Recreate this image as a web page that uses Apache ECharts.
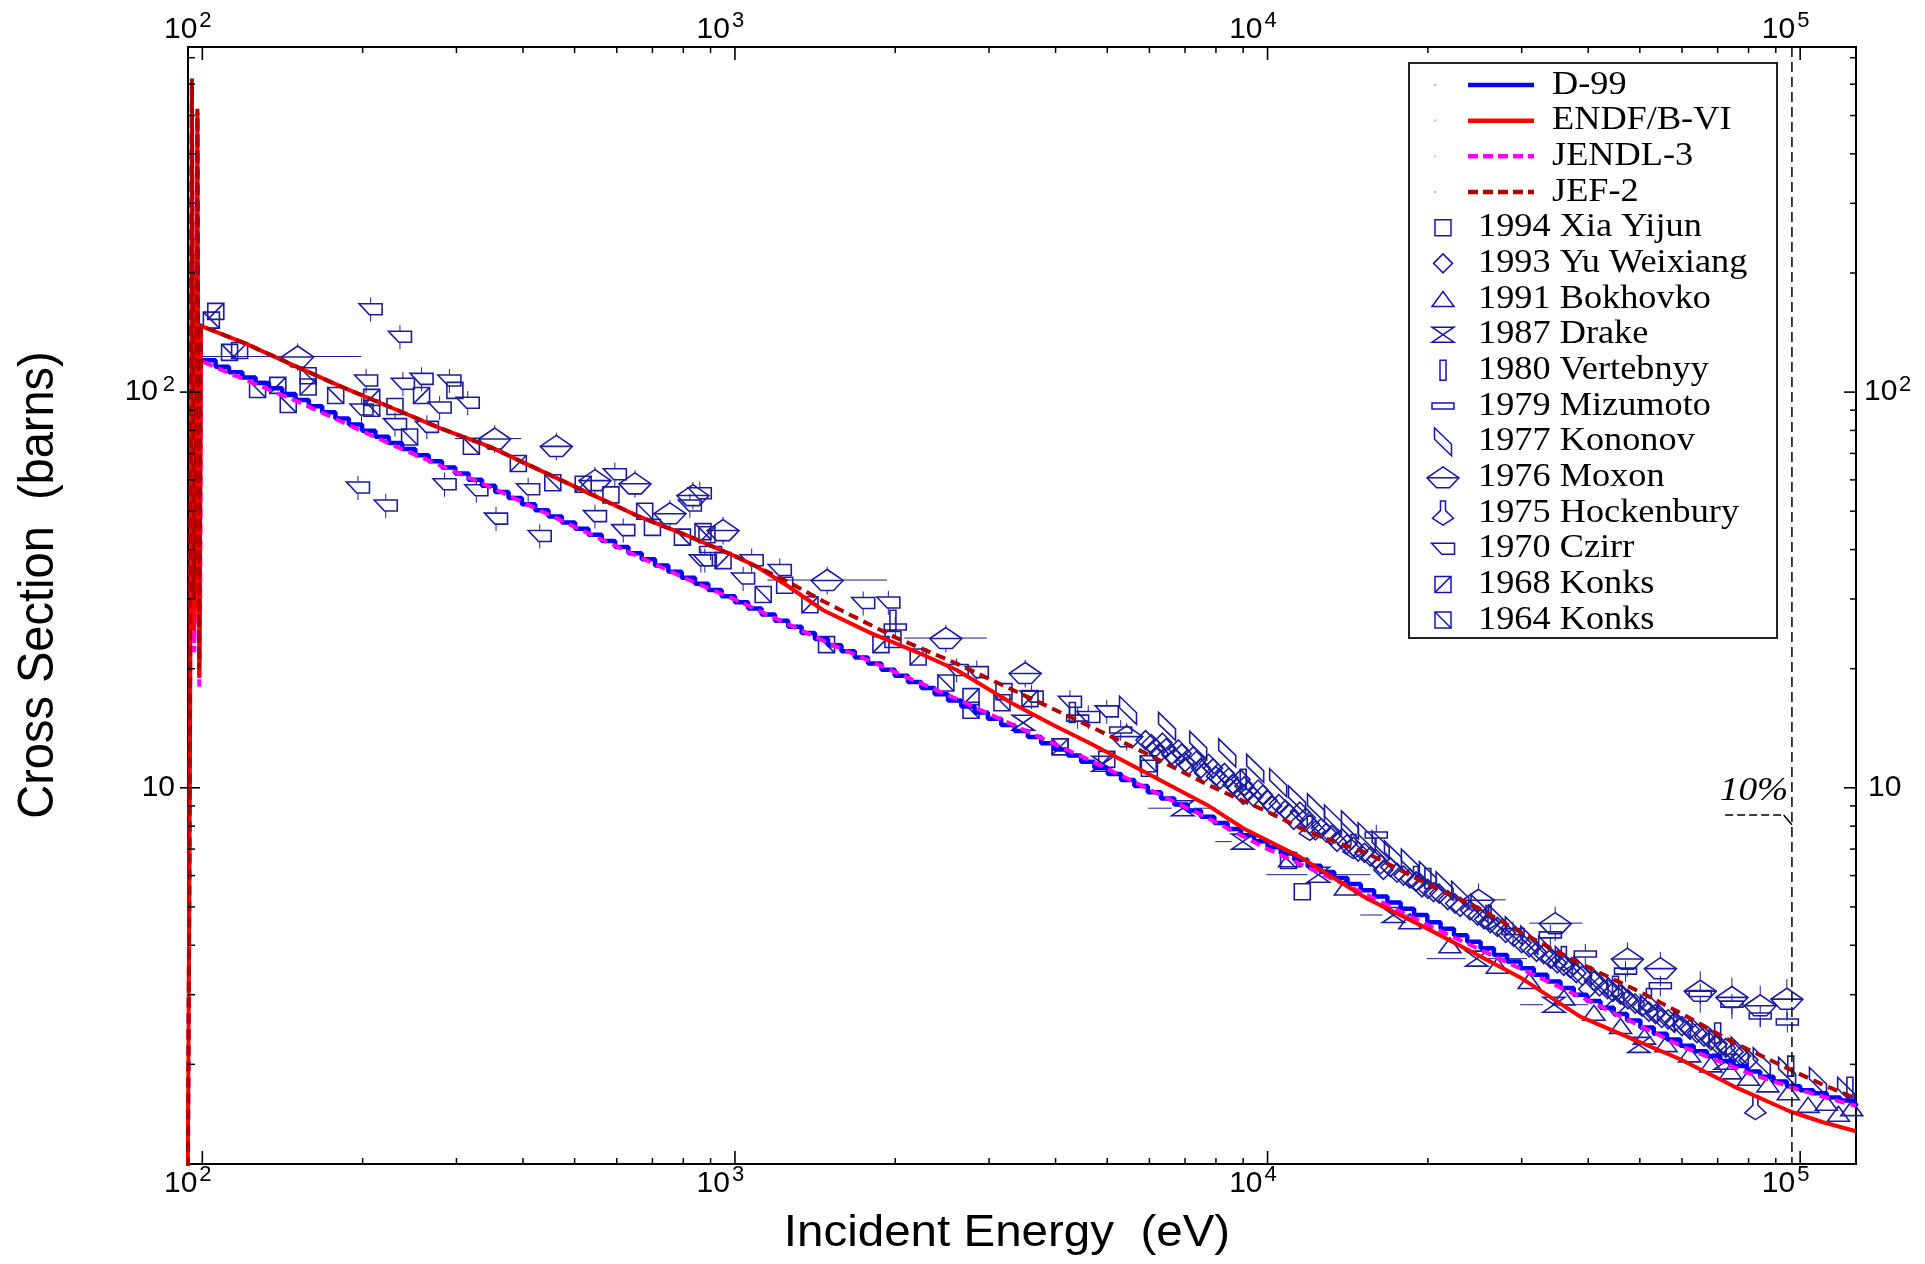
<!DOCTYPE html>
<html><head><meta charset="utf-8">
<script src="https://cdn.jsdelivr.net/npm/echarts@6/dist/echarts.min.js"></script>
<style>html,body{margin:0;padding:0;background:#fff}#c{width:1925px;height:1264px}</style>
</head><body><div id="c"></div>
<script>
// ---------------- axis ranges and tick labels ----------------
const xRange = [94.0, 127300];
const yRange = [1.12, 745];
const xMajorTicks = [100, 1000, 10000, 100000];
const xMajorLabels = [['10','2'],['10','3'],['10','4'],['10','5']];
const yMajorTicks = [10, 100];
const yMajorLabels = [['10',''],['10','2']];
const xDecades = [10, 100, 1000, 10000, 100000];
const yDecades = [1, 10, 100];
const minorMultipliers = [2,3,4,5,6,7,8,9];

// ---------------- evaluated data ----------------
const d99 = [[98.9,149],[99.3,120.4],[105.9,115.9],[112.2,112.3],[118.9,108.8],[125.9,105.4],[133.4,102.2],[141.3,98.97],[149.6,95.5],[158.5,92.16],[167.9,88.93],[177.8,85.81],[188.4,82.81],[199.5,79.91],[211.3,77.11],[223.9,74.41],[237.1,71.8],[251.2,69.28],[266.1,66.86],[281.8,64.51],[298.5,62.25],[316.2,60.07],[335.0,57.97],[354.8,55.94],[375.8,53.98],[398.1,52.09],[421.7,50.26],[446.7,48.5],[473.2,46.8],[501.2,45.16],[530.9,43.58],[562.3,42.05],[595.7,40.58],[631.0,39.16],[668.3,37.79],[707.9,36.46],[749.9,35.18],[794.3,33.95],[841.4,32.76],[891.3,31.61],[944.1,30.5],[1000,29.43],[1059,28.4],[1122,27.41],[1189,26.45],[1259,25.52],[1334,24.63],[1413,23.76],[1496,22.93],[1585,22.13],[1679,21.35],[1778,20.6],[1884,19.88],[1995,19.18],[2113,18.51],[2239,17.86],[2371,17.24],[2512,16.63],[2661,16.05],[2818,15.49],[2985,14.95],[3162,14.42],[3350,13.92],[3548,13.43],[3758,12.96],[3981,12.5],[4217,12.07],[4467,11.64],[4732,11.24],[5012,10.84],[5309,10.46],[5623,10.1],[5957,9.74],[6310,9.4],[6683,9.07],[7079,8.76],[7499,8.45],[7943,8.15],[8414,7.87],[8913,7.59],[9441,7.33],[10000,7.07],[10590,6.82],[11220,6.58],[11890,6.35],[12590,6.13],[13340,5.92],[14130,5.71],[14960,5.51],[15850,5.31],[16790,5.13],[17780,4.95],[18840,4.77],[19950,4.57],[21130,4.40],[22390,4.24],[23710,4.08],[25120,3.93],[26610,3.78],[28180,3.64],[29850,3.50],[31620,3.37],[33500,3.24],[35480,3.12],[37580,3.00],[39810,2.89],[42170,2.78],[44670,2.68],[47320,2.58],[50120,2.48],[53090,2.39],[56230,2.31],[59570,2.23],[63100,2.16],[66830,2.10],[70790,2.04],[74990,1.98],[79430,1.92],[84140,1.86],[89130,1.81],[94410,1.76],[100000,1.72],[105900,1.69],[112200,1.65],[118900,1.62],[125900,1.59],[127300,1.57]];

const endfb6 = [[93.8,0.8],[94.3,3],[94.8,12],[95.2,60],[95.6,600],[96.0,90],[96.5,25],[97.0,30],[97.5,120],[97.9,510],[98.3,80],[98.7,19],[99.0,40],[99.4,147],[120,133],[146,118],[180,104],[225,91.7],[280,81],[347,72.7],[430,63.5],[534,55.4],[660,48.5],[823,43.1],[1000,38.5],[1100,36.2],[1250,32.5],[1465,28.1],[1800,24.6],[2200,22],[2608,19.85],[3300,16.4],[4000,14.3],[4642,12.96],[6000,10.8],[7700,9.05],[9000,7.9],[11500,6.69],[15360,5.25],[20000,4.4],[25060,3.75],[30000,3.3],[38640,2.64],[48000,2.33],[59550,2.06],[75000,1.76],[95800,1.52],[110000,1.43],[127300,1.355]];

const jendl3 = [[94.0,1.0],[94.6,6],[95.2,80],[95.6,600],[96.1,70],[96.6,22],[97.1,35],[97.5,150],[97.9,500],[98.3,60],[98.7,18],[99.1,30],[99.5,120],[110,113],[150,95],[225,74],[350,57.3],[530,44],[820,33.5],[1000,29.9],[1500,23.2],[2600,16.8],[4600,11.8],[7700,8.4],[10000,7.0],[15000,5.45],[20000,4.5],[27000,3.72],[40000,2.9],[60000,2.22],[80000,1.9],[100000,1.72],[127300,1.57]];

const jef2 = [[93.9,1.0],[94.5,5],[95.0,40],[95.6,620],[96.0,120],[96.5,30],[97.0,40],[97.5,100],[97.9,520],[98.3,100],[98.7,20],[99.1,60],[99.4,147],[120,133],[146,118],[180,104],[225,91.7],[280,81],[347,72.7],[430,63.5],[534,55.4],[660,48.5],[823,43.1],[1000,38.5],[1100,36.2],[1250,33.3],[1465,29.6],[2000,24.0],[2608,20.6],[3500,17.1],[4642,14.3],[6000,12.1],[7700,10.2],[8628,9.5],[10000,8.7],[12000,7.7],[15360,6.84],[20000,5.7],[25000,4.95],[30000,4.3],[38600,3.6],[50000,3.05],[59550,2.7],[75000,2.27],[95800,1.94],[110000,1.78],[127300,1.64]];

// ---------------- experimental data: [E(eV), sigma(b), relErr?, Elow?, Ehigh?] ----------------
const xia1994 = [[230,92],[298,101],[585,55],[700,45.5],[1240,32.5],[1980,23.7],[3200,17.5],[6000,11.2],[11620,5.46]];
const yu1993 = [[5900,13.2],[6150,12.6],[6350,13.0],[6600,12.1],[6800,12.5],[7000,11.6],[7250,12.0],[7500,11.2],[7750,11.5],[8000,10.7],[8300,10.9],[8600,10.2],[8900,10.5],[9000,9.6],[9200,9.8],[9600,9.9],[10000,9.3],[10500,9.1],[11000,8.6],[11500,8.7],[12000,8.1],[12600,7.9],[13200,7.6],[13800,7.45],[14500,7.1],[15200,6.85],[16000,6.6],[16500,6.2],[17000,6.3],[18000,6.0],[19000,5.8],[20000,5.55],[21000,5.4],[22500,5.1],[24000,4.9],[25500,4.65],[27000,4.45],[29000,4.2],[31000,3.95],[33000,3.8],[35000,3.6],[37000,3.5],[39000,3.35],[40000,3.1],[41000,3.25],[43500,3.1],[45000,2.8],[46000,3.0],[49000,2.85],[52000,2.72],[55000,2.62],[58000,2.55],[62000,2.45],[66000,2.35],[70000,2.25],[75000,2.15],[80000,2.05],
  [6050,12.9],[6250,12.2],[6450,12.6],[6700,11.9],[6900,12.2],[7100,11.4],[7350,11.7],[7600,10.9],[7900,11.2],[8150,10.5],[8450,10.6],[8750,10.0],[9050,10.1],[9400,9.5],[9800,9.6],[10200,9.0],[10800,8.8],[11200,8.3],[11800,8.4],[12300,7.8],[12900,7.7],[13500,7.3],[14100,7.2],[14800,6.9],[15600,6.7],[16300,6.4],[17500,6.1],[18500,5.9],[19500,5.6],[20500,5.45],[21800,5.2],[23000,5.0],[24800,4.75],[26200,4.55],[28000,4.3],[30000,4.05],[32000,3.85],[34000,3.7],[36000,3.55],[38000,3.4],[42000,3.15],[44500,3.05],[47500,2.92],[50500,2.8],[53500,2.68],[56500,2.6],[60000,2.5],[64000,2.4],[68000,2.3],[72500,2.2],[77500,2.1]];
const bokhovko1991 = [[11000,6.6],[14000,5.6],[18500,4.6],[22000,4.0],[27000,3.55],[31000,3.25],[36000,2.95],[41000,2.7],[46000,2.5],[51000,2.35],[56000,2.25],[62000,2.12],[68000,2.0],[74000,1.92],[80000,1.85],[87000,1.78],[95000,1.7],[103500,1.58],[112000,1.6],[118000,1.5],[125000,1.55]];
const drake1987 = [[3477,14.6],[4910,11.5],[6930,8.88,0.03,5970,8000],[8982,7.31,0.03,7980,10100],[12460,6.03,0.03,9950,15600],[17230,4.77,0.03,14930,19900],[24700,3.7,0.03,19900,30700],[34500,2.83,0.03,29800,40000],[49800,2.24],[72300,2.03]];
const vertebnyy1980 = [[1980,26.5],[4300,15.5],[9000,10.5],[20000,5.9],[45000,3.15],[70000,2.4],[96000,1.98],[124000,1.75]];
const mizumoto1979 = [[900,40],[2000,25.5],[4400,15.0],[5300,14.0],[16000,7.6],[28900,4.33],[33960,4.25],[39500,3.8],[47000,3.44],[54640,3.16],[64920,3.02],[74450,2.84],[84140,2.65],[94600,2.56]];
const kononov1977 = [[5470,15.7],[6475,14.3],[7410,12.8],[8400,12.25],[9480,11.2],[10470,10.3],[11360,9.32],[12330,8.9],[13270,8.34],[14280,8.06],[15350,7.52],[16310,7.17],[17200,6.77],[18500,6.45],[20000,6.0],[21500,5.65],[23000,5.35],[25000,4.95],[27000,4.65],[29000,4.35],[31000,4.12],[33500,3.88],[36000,3.66],[39000,3.45],[42000,3.25],[45000,3.07],[48000,2.92],[52000,2.76],[56000,2.62],[60000,2.52],[65000,2.4],[70000,2.28],[77000,2.16],[84700,2.03],[94500,1.92],[108000,1.81],[122000,1.71]];
const moxon1976 = [[151,123,0.08,99,199],[354,76.3,0.08,298,397],[462,73.1],[546,59.9],[649,58.8],[755,49.4],[834,54.9],[950,44.8],[1490,33.5,0.08,1150,1930],[2489,23.9,0.08,2080,2970],[3507,19.5],[5440,13.5],[24890,5.21,0.1,22000,28000],[34680,4.55,0.1,31000,39000],[47380,3.7,0.1],[54640,3.5,0.1],[64920,3.07,0.12],[74450,2.96,0.12],[84140,2.82,0.12],[94420,2.93,0.12]];
const hockenbury1975 = [[12000,7.9],[14500,7.1],[19000,5.9],[26000,4.7],[36000,3.7],[52000,2.9],[82400,1.555]];
const czirr1970 = [[207,162],[235,138],[196,57.4],[221,51.7],[203,107],[238,105],[258,108],[291,107],[315,94],[279,91.4],[199,90.4],[230,83],[264,81.7],[285,58.5],[356,47.9],[430,43.3],[546,48.6],[595,62],[617,44.8],[863,37.6],[327,56.5],[409,56.8],[823,51.7],[859,55.5],[878,37.6],[1036,33.8],[1075,37.6],[1214,35.5],[1741,29.3],[1941,29.4],[2608,19.85],[2845,19.6],[3606,17],[4256,16.5],[4607,15.1],[4990,15.6]];
const konks1968 = [[106,160],[117.5,127.4],[138.6,104],[158,103],[208,97],[258,98],[392,66],[519,58.5],[886,43.6],[950,37.5],[1383,29],[1880,23],[2208,21.4],[2775,17],[3580,16.8],[4080,12.7],[4990,11.8]];
const konks1964 = [[104,152],[112.5,126],[127,101.5],[145,93],[158,110],[178,98],[208,91],[245,77],[320,73],[455,59],[677,50],[797,43],[871,44.4],[1130,30.8],[1486,23],[2489,18.4],[2775,15.7],[3172,16.4],[4080,12.7],[5970,11.5],[10950,6.55]];

// annotation
const tenPctE = 96500;
const tenPctLabel = [81900, 9.82];
const tenPctLeader = [[72300, 8.54], [93100, 8.54], [96500, 8.06]];

// ---------------- styles ----------------
const MC = '#1c1ca0';
const SQ = [[-.5,-.5],[.5,-.5],[.5,.5],[-.5,.5]];
const SHAPES = {
  square:   {w:16,h:16, polys:[{c:true,p:SQ}]},
  diamond:  {w:19,h:19, polys:[{c:true,p:[[0,-.5],[.5,0],[0,.5],[-.5,0]]}]},
  triangle: {w:22,h:15, polys:[{c:true,p:[[0,-.5],[.5,.5],[-.5,.5]]}]},
  hourglass:{w:22,h:15, polys:[{c:true,p:[[-.5,-.5],[.5,-.5],[-.5,.5],[.5,.5]]}]},
  vrect:    {w:6,h:20, polys:[{c:true,p:SQ}]},
  hrect:    {w:22,h:6, polys:[{c:true,p:SQ}]},
  para:     {w:17,h:28, polys:[{c:true,p:[[-.5,-.5],[.5,.09],[.5,.5],[-.5,-.09]]}]},
  boat:     {w:32,h:21, polys:[{c:true,p:[[0,-.5],[.5,.02],[.2,.5],[-.2,.5],[-.5,.02]]},{c:false,p:[[-.5,.02],[.5,.02]]}]},
  hock:     {w:21,h:24, polys:[{c:true,p:[[-.12,-.5],[.12,-.5],[.12,-.1],[.5,.22],[0,.5],[-.5,.22],[-.12,-.1]]}]},
  czirr:    {w:23,h:11, polys:[{c:true,p:[[-.5,-.5],[.5,-.5],[.5,.5],[-.05,.5]]}]},
  sqfwd:    {w:16,h:16, polys:[{c:true,p:SQ},{c:false,p:[[-.5,.5],[.5,-.5]]}]},
  sqback:   {w:16,h:16, polys:[{c:true,p:SQ},{c:false,p:[[-.5,-.5],[.5,.5]]}]}
};

const experiments = [
  {name:'1994 Xia Yijun', data:xia1994, shape:'square', err:0.02},
  {name:'1993 Yu Weixiang', data:yu1993, shape:'diamond', err:0.02},
  {name:'1991 Bokhovko', data:bokhovko1991, shape:'triangle', err:0.03},
  {name:'1987 Drake', data:drake1987, shape:'hourglass', err:0.03},
  {name:'1980 Vertebnyy', data:vertebnyy1980, shape:'vrect', err:0.04},
  {name:'1979 Mizumoto', data:mizumoto1979, shape:'hrect', err:0.06},
  {name:'1977 Kononov', data:kononov1977, shape:'para', err:0.03},
  {name:'1976 Moxon', data:moxon1976, shape:'boat', err:0.08},
  {name:'1975 Hockenbury', data:hockenbury1975, shape:'hock', err:0.03},
  {name:'1970 Czirr', data:czirr1970, shape:'czirr', err:0.07},
  {name:'1968 Konks', data:konks1968, shape:'sqfwd', err:0.03},
  {name:'1964 Konks', data:konks1964, shape:'sqback', err:0.03}
];

function shapeEls(sh, cx, cy, color, lw) {
  return sh.polys.map(pl => ({
    type: pl.c ? 'polygon' : 'polyline',
    shape: {points: pl.p.map(q => [cx + q[0]*sh.w, cy + q[1]*sh.h])},
    style: {fill: 'none', stroke: color, lineWidth: lw},
    z2: 1
  }));
}
function seg(x1,y1,x2,y2,color,lw,dash) {
  const st = {stroke: color, lineWidth: lw};
  if (dash) st.lineDash = dash;
  return {type:'line', shape:{x1,y1,x2,y2}, style: st};
}

function markerRenderer(shapeKey) {
  const sh = SHAPES[shapeKey];
  return function (params, api) {
    const E = api.value(0), S = api.value(1), err = api.value(2), xlo = api.value(3), xhi = api.value(4);
    const c = api.coord([E, S]);
    const ch = shapeEls(sh, c[0], c[1], MC, 1.6);
    if (err > 0) {
      const yt = api.coord([E, S*(1+err)])[1];
      const yb = api.coord([E, S*(1-err)])[1];
      if (yt < c[1]-sh.h/2) ch.push(seg(c[0], yt, c[0], c[1]-sh.h/2, MC, 1));
      if (yb > c[1]+sh.h/2) ch.push(seg(c[0], c[1]+sh.h/2, c[0], yb, MC, 1));
    }
    if (xlo > 0) { const xl = api.coord([xlo, S])[0]; if (xl < c[0]-sh.w/2) ch.push(seg(xl, c[1], c[0]-sh.w/2, c[1], MC, 1)); }
    if (xhi > 0) { const xr = api.coord([xhi, S])[0]; if (xr > c[0]+sh.w/2) ch.push(seg(c[0]+sh.w/2, c[1], xr, c[1], MC, 1)); }
    return {type:'group', children: ch};
  };
}

function txt(x, y, text, font, align, valign, extra) {
  const el = {type:'text', x, y, style:{text, font, fill:'#000', textAlign:align, align:align, textVerticalAlign:valign, verticalAlign:valign}};
  return Object.assign(el, extra || {});
}

const TICKFONT = '30px "Liberation Sans", Arial, sans-serif';
const SUPFONT = '22px "Liberation Sans", Arial, sans-serif';

function frameRenderer(params, api) {
  const cs = params.coordSys;
  const L = cs.x, R = cs.x + cs.width, T = cs.y, B = cs.y + cs.height;
  const ch = [];
  const X = v => api.coord([v, yRange[0]])[0];
  const Y = v => api.coord([xRange[0], v])[1];
  xDecades.forEach(d => minorMultipliers.forEach(m => {
    const v = d*m;
    if (v > xRange[0] && v < xRange[1]) { const x = X(v); ch.push(seg(x,B,x,B-6,'#000',1.5)); ch.push(seg(x,T,x,T+6,'#000',1.5)); }
  }));
  yDecades.forEach(d => minorMultipliers.forEach(m => {
    const v = d*m;
    if (v > yRange[0] && v < yRange[1]) { const y = Y(v); ch.push(seg(L,y,L+7,y,'#000',1.5)); ch.push(seg(R,y,R-6,y,'#000',1.5)); }
  }));
  xMajorTicks.forEach((v, i) => {
    const x = X(v);
    ch.push(seg(x,B,x,B-13,'#000',1.6)); ch.push(seg(x,T,x,T+13,'#000',1.6));
    const lb = xMajorLabels[i];
    ch.push(txt(x-5, B+20, lb[0], TICKFONT, 'right', 'middle'));
    ch.push(txt(x-3, B+11, lb[1], SUPFONT, 'left', 'middle'));
    ch.push(txt(x-5, T-17, lb[0], TICKFONT, 'right', 'middle'));
    ch.push(txt(x-3, T-26, lb[1], SUPFONT, 'left', 'middle'));
  });
  yMajorTicks.forEach((v, i) => {
    const y = Y(v);
    ch.push(seg(L-8,y,L+12,y,'#000',1.6)); ch.push(seg(R,y,R-12,y,'#000',1.6));
    const lb = yMajorLabels[i];
    if (lb[1]) {
      ch.push(txt(L-13, y-7, lb[1], SUPFONT, 'right', 'middle'));
      ch.push(txt(L-30, y, lb[0], TICKFONT, 'right', 'middle'));
      ch.push(txt(R+8, y, lb[0], TICKFONT, 'left', 'middle'));
      ch.push(txt(R+43, y-7, lb[1], SUPFONT, 'left', 'middle'));
    } else {
      ch.push(txt(L-13, y, lb[0], TICKFONT, 'right', 'middle'));
      ch.push(txt(R+12, y, lb[0], TICKFONT, 'left', 'middle'));
    }
  });
  return {type:'group', children: ch};
}

function tenPctRenderer(params, api) {
  const cs = params.coordSys;
  const T = cs.y, B = cs.y + cs.height;
  const x = api.coord([tenPctE, yRange[0]])[0];
  const ch = [seg(x, T, x, B, '#000', 1.5, [10,5])];
  const p0 = api.coord(tenPctLeader[0]), p1 = api.coord(tenPctLeader[1]), p2 = api.coord(tenPctLeader[2]);
  ch.push(seg(p0[0], p0[1], p1[0], p1[1], '#000', 1.5, [8,4]));
  ch.push(seg(p1[0], p1[1], p2[0], p2[1], '#000', 1.5));
  const t = api.coord(tenPctLabel);
  ch.push(txt(t[0], t[1], '10%', 'italic 34px "Liberation Serif", "Times New Roman", serif', 'center', 'middle', {scaleX: 1.1}));
  return {type:'group', children: ch};
}

// ---------------- series ----------------
const series = [];
experiments.forEach(ex => {
  series.push({
    name: ex.name, type: 'custom', renderItem: markerRenderer(ex.shape),
    dimensions: ['E','S','err','xlo','xhi'], encode: {x: 0, y: 1},
    data: ex.data.map(p => [p[0], p[1], p[2] != null ? p[2] : ex.err, p[3] || 0, p[4] || 0]),
    z: 2, silent: true
  });
});
series.push({name:'D-99', type:'line', data:d99, step:'end', symbol:'none', lineStyle:{color:'#0000ff', width:4.5}, z:3, silent:true});
series.push({name:'JENDL-3', type:'line', data:jendl3, symbol:'none', lineStyle:{color:'#ff00ff', width:4, type:[10,6]}, z:3, silent:true});
series.push({name:'ENDF/B-VI', type:'line', data:endfb6, symbol:'none', lineStyle:{color:'#ff0000', width:4}, z:3, silent:true});
series.push({name:'JEF-2', type:'line', data:jef2, symbol:'none', lineStyle:{color:'#b00000', width:4, type:[10,6]}, z:3, silent:true});
series.push({name:'tenpct', type:'custom', renderItem: tenPctRenderer, data:[[1000, 10]], encode:{x:0,y:1}, z:4, silent:true});
series.push({name:'frame', type:'custom', renderItem: frameRenderer, data:[[1000, 10]], encode:{x:0,y:1}, z:5, silent:true});

// ---------------- legend (graphic) ----------------
const legendLines = [
  {name:'D-99', color:'#0000ff', dash:null, dot:'#aab0ff'},
  {name:'ENDF/B-VI', color:'#ff0000', dash:null, dot:'#ffb0b0'},
  {name:'JENDL-3', color:'#ff00ff', dash:[10,5], dot:'#ffb0ff'},
  {name:'JEF-2', color:'#b00000', dash:[10,5], dot:'#e0b0b0'}
];
const LEGFONT = '33px "Liberation Serif", "Times New Roman", serif';
const gEls = [];
gEls.push({type:'rect', shape:{x:1409, y:63, width:368, height:575}, style:{fill:'#fff', stroke:'#222', lineWidth:2}, z:100});
const rowY = i => 85 + i*35.67;
legendLines.forEach((l, i) => {
  const y = rowY(i);
  gEls.push({type:'circle', shape:{cx:1435, cy:y, r:1.3}, style:{fill:l.dot}, z:101});
  const st = {stroke:l.color, lineWidth:4.5};
  if (l.dash) st.lineDash = l.dash;
  gEls.push({type:'line', shape:{x1:1468, y1:y, x2:1534, y2:y}, style:st, z:101});
  gEls.push(Object.assign(txt(1552, y, l.name, LEGFONT, 'left', 'middle', {scaleX:1.1}), {z:101}));
});
experiments.forEach((ex, j) => {
  const y = rowY(j + 4);
  shapeEls(SHAPES[ex.shape], 1443, y, '#1414b4', 1.5).forEach(e => { e.z = 101; gEls.push(e); });
  gEls.push(Object.assign(txt(1478, y, ex.name, LEGFONT, 'left', 'middle', {scaleX:1.1}), {z:101}));
});
// axis titles
gEls.push(Object.assign(txt(1007, 1234, 'Incident Energy  (eV)', '44px "Liberation Sans", Arial, sans-serif', 'center', 'middle', {scaleX:1.08}), {z:101}));
gEls.push(Object.assign(txt(39, 585, 'Cross Section  (barns)', '47px "Liberation Sans", Arial, sans-serif', 'center', 'middle', {rotation: Math.PI/2, scaleY:1.08}), {z:101}));

const chart = echarts.init(document.getElementById('c'), null, {renderer:'canvas'});
chart.setOption({
  animation: false,
  backgroundColor: '#ffffff',
  grid: {left:188, top:47, right:69, bottom:100, show:true, borderColor:'#000', borderWidth:2, backgroundColor:'transparent'},
  xAxis: {type:'log', logBase:10, min:xRange[0], max:xRange[1], axisLine:{show:false}, axisTick:{show:false}, axisLabel:{show:false}, splitLine:{show:false}},
  yAxis: {type:'log', logBase:10, min:yRange[0], max:yRange[1], axisLine:{show:false}, axisTick:{show:false}, axisLabel:{show:false}, splitLine:{show:false}},
  series: series,
  graphic: {elements: gEls}
});
</script>
</body></html>
